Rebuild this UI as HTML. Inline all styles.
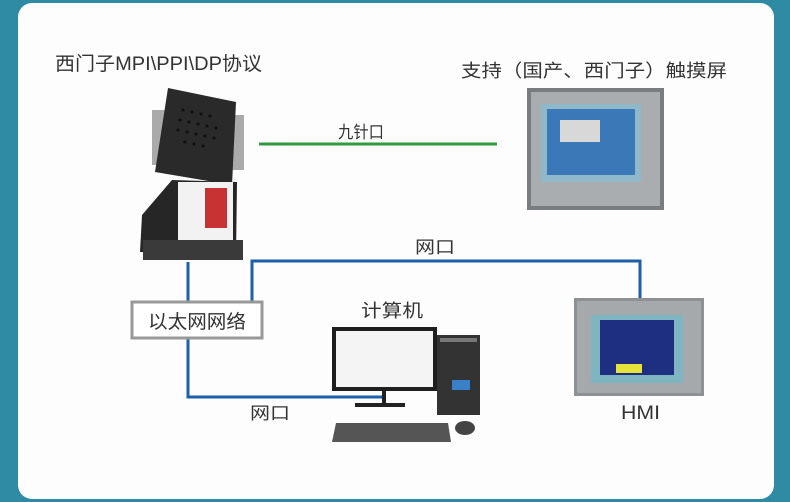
<!DOCTYPE html>
<html><head><meta charset="utf-8"><style>
html,body{margin:0;padding:0;width:790px;height:502px;overflow:hidden;background:#2f8ba3}
svg{display:block}
text{font-family:"Liberation Sans","Noto Sans CJK SC",sans-serif;fill:#333}
</style></head><body>
<svg width="790" height="502" viewBox="0 0 790 502">
<rect x="0" y="0" width="790" height="502" fill="#2f8ba3"/>
<rect x="18" y="3" width="756" height="496" rx="14" fill="#fdfdfd"/>
<text x="55" y="70" font-size="19" textLength="207" lengthAdjust="spacingAndGlyphs">西门子MPI\PPI\DP协议</text>
<text x="461" y="77" font-size="18" textLength="266" lengthAdjust="spacingAndGlyphs">支持（国产、西门子）触摸屏</text>
<!-- device -->
<rect x="152" y="110" width="14" height="55" fill="#aaa"/>
<rect x="232" y="115" width="12" height="55" fill="#aaa"/>
<polygon points="168,88 236,102 232,185 155,172" fill="#2a2a2a"/>
<g fill="#111">
<circle cx="183" cy="110" r="1.6"/><circle cx="192" cy="112" r="1.6"/><circle cx="201" cy="114" r="1.6"/><circle cx="210" cy="116" r="1.6"/>
<circle cx="180" cy="120" r="1.6"/><circle cx="189" cy="122" r="1.6"/><circle cx="198" cy="124" r="1.6"/><circle cx="207" cy="126" r="1.6"/><circle cx="216" cy="128" r="1.6"/>
<circle cx="178" cy="130" r="1.6"/><circle cx="187" cy="132" r="1.6"/><circle cx="196" cy="134" r="1.6"/><circle cx="205" cy="136" r="1.6"/><circle cx="214" cy="138" r="1.6"/>
<circle cx="185" cy="142" r="1.6"/><circle cx="194" cy="144" r="1.6"/><circle cx="203" cy="146" r="1.6"/></g>
<polygon points="172,180 237,182 236,255 140,252 142,215" fill="#262626"/>
<rect x="178" y="182" width="55" height="68" fill="#f2f2f2"/>
<rect x="205" y="188" width="22" height="40" fill="#c83232"/>
<rect x="143" y="240" width="100" height="20" fill="#3a3a3a"/>
<!-- green line -->
<line x1="259" y1="144" x2="497" y2="144" stroke="#2e9a3e" stroke-width="3"/>
<text x="338" y="138" font-size="17" textLength="46" lengthAdjust="spacingAndGlyphs">九针口</text>
<!-- top HMI -->
<rect x="527" y="88" width="137" height="122" fill="#7a7d80"/>
<rect x="531" y="92" width="129" height="114" fill="#a9adb0"/>
<rect x="541" y="104" width="100" height="78" fill="#8fb8c8"/>
<rect x="547" y="109" width="88" height="66" fill="#3a78b8"/>
<rect x="560" y="120" width="40" height="22" fill="#d8d8d8"/>
<!-- blue lines -->
<g fill="none" stroke="#1d5fa8" stroke-width="3">
<polyline points="188,262 188,397 385,397"/>
<polyline points="252,302 252,261 640,261 640,300"/>
</g>
<text x="415" y="253" font-size="17" textLength="40" lengthAdjust="spacingAndGlyphs">网口</text>
<text x="250" y="419" font-size="17" textLength="40" lengthAdjust="spacingAndGlyphs">网口</text>
<rect x="132" y="302" width="130" height="36" fill="#fff" stroke="#999" stroke-width="3"/>
<text x="148" y="328" font-size="19" textLength="98" lengthAdjust="spacingAndGlyphs">以太网网络</text>
<text x="361" y="317" font-size="18" textLength="62" lengthAdjust="spacingAndGlyphs">计算机</text>
<!-- computer -->
<rect x="332" y="327" width="105" height="64" fill="#1e1e1e"/>
<rect x="336" y="331" width="97" height="56" fill="#f4f4f4"/>
<rect x="382" y="391" width="4" height="12" fill="#222"/>
<rect x="355" y="403" width="50" height="4" fill="#222"/>
<rect x="437" y="335" width="43" height="80" fill="#333"/>
<rect x="440" y="338" width="37" height="4" fill="#777"/>
<rect x="452" y="380" width="18" height="10" fill="#3a80c8"/>
<polygon points="336,423 448,423 451,442 332,442" fill="#555"/>
<ellipse cx="465" cy="428" rx="10" ry="7" fill="#444"/>
<!-- bottom HMI -->
<rect x="574" y="298" width="130" height="98" fill="#8e9193"/>
<rect x="577" y="301" width="124" height="92" fill="#a5a9ab"/>
<rect x="591" y="315" width="92" height="68" fill="#7fb5c0"/>
<rect x="600" y="320" width="74" height="55" fill="#1e2e80"/>
<rect x="616" y="364" width="26" height="9" fill="#e6e33a"/>
<text x="621" y="419" font-size="19" textLength="39" lengthAdjust="spacingAndGlyphs">HMI</text>
</svg>
</body></html>
